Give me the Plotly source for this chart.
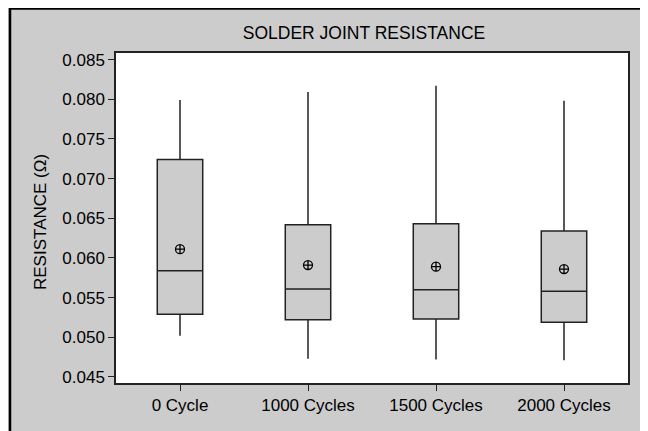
import plotly.graph_objects as go

categories = ["0 Cycle", "1000 Cycles", "1500 Cycles", "2000 Cycles"]
upper_whisker = [0.0799, 0.0809, 0.0817, 0.0798]
q3_values = [0.0724, 0.0642, 0.0643, 0.0634]
median_values = [0.0584, 0.0561, 0.0560, 0.0558]
q1_values = [0.0529, 0.0522, 0.0523, 0.0519]
lower_whisker = [0.0502, 0.0473, 0.0472, 0.0471]
mean_values = [0.0611, 0.0591, 0.0589, 0.0586]
y_ticks = [0.045, 0.050, 0.055, 0.060, 0.065, 0.070, 0.075, 0.080, 0.085]
y_tick_labels = ["0.045", "0.050", "0.055", "0.060", "0.065", "0.070", "0.075", "0.080", "0.085"]

FONT = "Liberation Sans, Arial, sans-serif"

fig = go.Figure()
fig.add_trace(go.Box(
    x=categories,
    q1=q1_values, median=median_values, q3=q3_values,
    lowerfence=lower_whisker, upperfence=upper_whisker,
    width=0.355, whiskerwidth=0,
    fillcolor="#cccccc",
    line=dict(color="#222222", width=1.5),
    boxpoints=False, showlegend=False, hoverinfo="skip",
))
fig.add_trace(go.Scatter(
    x=categories, y=mean_values, mode="markers",
    marker=dict(symbol="circle-cross-open", size=9, color="black", line=dict(width=1.3, color="black")),
    showlegend=False, hoverinfo="skip",
))

# page body adds an 8px offset; lay out in figure coordinates accordingly
OFF = 8
W, H = 640, 423
L, R, T, B = 108, 20, 45, 48
pw, ph = W - L - R, H - T - B

def px_x(x):
    return (x - OFF - L) / pw

def px_y(y):
    return (H - B - (y - OFF)) / ph

fig.update_layout(
    width=W, height=H,
    margin=dict(l=L, r=R, t=T, b=B),
    paper_bgcolor="#cccccc",
    plot_bgcolor="white",
    font=dict(family=FONT, size=17, color="black"),
    title=dict(text="SOLDER JOINT RESISTANCE", x=(364 - OFF) / W, xanchor="center",
               y=1 - (33 - OFF) / H, yanchor="middle", font=dict(size=17.5, family=FONT)),
    xaxis=dict(
        type="category", range=[-0.5, 3.5],
        showline=True, linecolor="#222222", linewidth=1.5, mirror=True,
        ticks="outside", ticklen=6, tickcolor="#222222", tickwidth=1.2,
        showgrid=False, zeroline=False,
        tickfont=dict(size=17, family=FONT),
    ),
    yaxis=dict(
        range=[0.04424, 0.08583],
        tickvals=y_ticks, ticktext=y_tick_labels,
        showline=True, linecolor="#222222", linewidth=1.5, mirror=True,
        ticks="outside", ticklen=6, tickcolor="#222222", tickwidth=1.2,
        showgrid=False, zeroline=False,
        tickfont=dict(size=17, family=FONT),
    ),
    annotations=[dict(
        text="RESISTANCE (Ω)", textangle=-90,
        xref="paper", yref="paper", x=px_x(40), y=px_y(222),
        xanchor="center", yanchor="middle", showarrow=False,
        font=dict(size=17, family=FONT),
    )],
    shapes=[dict(
        type="rect", xref="paper", yref="paper",
        x0=px_x(10), x1=px_x(646), y0=px_y(450), y1=px_y(8.5),
        line=dict(color="black", width=2.5), fillcolor="rgba(0,0,0,0)", layer="above",
    )],
)

fig.write_html("out.html")
